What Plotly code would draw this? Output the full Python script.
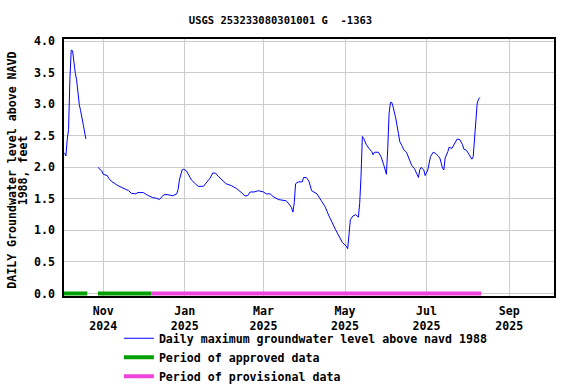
import plotly.graph_objects as go

# Daily maximum groundwater level (feet above NAVD 1988)
seg1_dates = ["2024-10-03", "2024-10-04", "2024-10-05", "2024-10-06", "2024-10-07",
              "2024-10-08", "2024-10-09", "2024-10-10", "2024-10-11", "2024-10-12",
              "2024-10-13", "2024-10-14", "2024-10-15", "2024-10-16", "2024-10-17",
              "2024-10-18", "2024-10-19"]
seg1_vals = [2.23, 2.18, 2.44, 2.60, 3.40, 3.86, 3.85, 3.65, 3.50, 3.39,
             3.15, 3.00, 2.90, 2.81, 2.68, 2.56, 2.45]

seg2_dates = ["2024-10-28", "2024-10-31", "2024-11-01", "2024-11-04", "2024-11-05",
              "2024-11-07", "2024-11-10", "2024-11-12", "2024-11-15", "2024-11-17",
              "2024-11-20", "2024-11-22", "2024-11-25", "2024-11-27", "2024-12-01",
              "2024-12-04", "2024-12-06", "2024-12-08", "2024-12-11", "2024-12-13",
              "2024-12-16", "2024-12-18", "2024-12-21", "2024-12-23", "2024-12-26",
              "2024-12-27", "2024-12-28", "2024-12-30", "2024-12-31", "2025-01-02",
              "2025-01-04", "2025-01-06", "2025-01-09", "2025-01-11", "2025-01-15",
              "2025-01-17", "2025-01-20", "2025-01-22", "2025-01-24", "2025-01-26",
              "2025-01-29", "2025-01-31", "2025-02-01", "2025-02-05", "2025-02-09",
              "2025-02-13", "2025-02-15", "2025-02-17", "2025-02-19", "2025-02-22",
              "2025-02-25", "2025-03-01", "2025-03-03", "2025-03-06", "2025-03-08",
              "2025-03-12", "2025-03-15", "2025-03-18", "2025-03-20", "2025-03-22",
              "2025-03-23", "2025-03-24", "2025-03-25", "2025-03-27", "2025-03-30",
              "2025-03-31", "2025-04-02", "2025-04-04", "2025-04-06", "2025-04-10",
              "2025-04-13", "2025-04-16", "2025-04-19", "2025-04-22", "2025-04-24",
              "2025-04-26", "2025-04-29", "2025-05-02", "2025-05-03", "2025-05-04",
              "2025-05-05", "2025-05-07", "2025-05-09", "2025-05-11", "2025-05-12",
              "2025-05-13", "2025-05-14", "2025-05-15", "2025-05-17", "2025-05-19",
              "2025-05-21", "2025-05-22", "2025-05-23", "2025-05-26", "2025-05-28",
              "2025-05-30", "2025-05-31", "2025-06-01", "2025-06-02", "2025-06-03",
              "2025-06-04", "2025-06-05", "2025-06-06", "2025-06-08", "2025-06-10",
              "2025-06-11", "2025-06-13", "2025-06-14", "2025-06-16", "2025-06-18",
              "2025-06-20", "2025-06-22", "2025-06-24", "2025-06-25", "2025-06-26",
              "2025-06-27", "2025-06-29", "2025-06-30", "2025-07-02", "2025-07-04",
              "2025-07-06", "2025-07-08", "2025-07-11", "2025-07-13", "2025-07-14",
              "2025-07-15", "2025-07-17", "2025-07-18", "2025-07-20", "2025-07-22",
              "2025-07-24", "2025-07-26", "2025-07-28", "2025-07-29", "2025-07-31",
              "2025-08-02", "2025-08-04", "2025-08-05", "2025-08-06", "2025-08-07",
              "2025-08-08", "2025-08-09", "2025-08-10"]
seg2_vals = [2.00, 1.94, 1.89, 1.87, 1.83,
             1.78, 1.74, 1.71, 1.68, 1.66,
             1.63, 1.59, 1.58, 1.60, 1.60,
             1.56, 1.54, 1.52, 1.51, 1.49,
             1.56, 1.57, 1.56, 1.55, 1.58,
             1.65, 1.80, 1.96, 1.97, 1.95,
             1.88, 1.80, 1.74, 1.70, 1.70,
             1.75, 1.83, 1.91, 1.91, 1.86,
             1.80, 1.77, 1.74, 1.71, 1.66,
             1.59, 1.55, 1.55, 1.61, 1.61,
             1.63, 1.61, 1.58, 1.58, 1.54,
             1.49, 1.48, 1.47, 1.42, 1.36,
             1.29, 1.44, 1.74, 1.77, 1.77,
             1.84, 1.84, 1.78, 1.63, 1.58,
             1.48, 1.38, 1.23, 1.08, 1.01,
             0.93, 0.81, 0.75, 0.71, 0.93,
             1.17, 1.23, 1.25, 1.21, 1.43,
             1.86, 2.49, 2.46, 2.36, 2.30,
             2.25, 2.20, 2.24, 2.24, 2.17,
             2.04, 1.97, 1.89, 2.30, 2.85,
             3.03, 3.03, 2.96, 2.78, 2.54,
             2.41, 2.33, 2.28, 2.24, 2.12,
             2.03, 1.98, 1.89, 1.84, 1.96,
             2.00, 1.96, 1.87, 1.96, 2.17,
             2.24, 2.22, 2.15, 1.99, 1.96,
             2.15, 2.25, 2.32, 2.30, 2.38,
             2.45, 2.44, 2.36, 2.29, 2.27,
             2.20, 2.13, 2.17, 2.46, 2.75,
             3.02, 3.08, 3.11]

# Periods of data status
approved_periods = [("2024-10-02", "2024-10-20"), ("2024-10-28", "2024-12-07")]
provisional_periods = [("2024-12-07", "2025-08-11")]

x_ticks = ["2024-11-01", "2025-01-01", "2025-03-01", "2025-05-01", "2025-07-01", "2025-09-01"]
x_tick_labels = ["Nov<br>2024", "Jan<br>2025", "Mar<br>2025", "May<br>2025", "Jul<br>2025", "Sep<br>2025"]
y_ticks = [0.0, 0.5, 1.0, 1.5, 2.0, 2.5, 3.0, 3.5, 4.0]
y_title_lines = ["DAILY Groundwater level above NAVD", "1988, feet"]

FONT = "DejaVu Sans Mono"

line_x = seg1_dates + ["2024-10-24"] + seg2_dates
line_y = seg1_vals + [None] + seg2_vals

fig = go.Figure()
fig.add_trace(go.Scatter(x=line_x, y=line_y, mode="lines",
                         line=dict(color="#0000ff", width=1),
                         connectgaps=False,
                         name="Daily maximum groundwater level above navd 1988"))

ax, ay = [], []
for s, e in approved_periods:
    ax += [s, e, None]
    ay += [0, 0, None]
fig.add_trace(go.Scatter(x=ax, y=ay, mode="lines",
                         line=dict(color="#00a000", width=4),
                         name="Period of approved data"))
px_, py_ = [], []
for s, e in provisional_periods:
    px_ += [s, e, None]
    py_ += [0, 0, None]
fig.add_trace(go.Scatter(x=px_, y=py_, mode="lines",
                         line=dict(color="#ee44dd", width=4),
                         name="Period of provisional data"))

# y-axis title, two lines placed individually (tight line spacing)
for txt, xpos in zip(y_title_lines, [-0.1067, -0.0831]):
    fig.add_annotation(text=txt, xref="paper", yref="paper", x=xpos, y=0.49,
                       xanchor="center", yanchor="middle", textangle=-90,
                       showarrow=False,
                       font=dict(family=FONT, size=11.6, color="black", weight="bold"))

fig.update_layout(
    width=576, height=384,
    margin=dict(l=64, r=22, t=39, b=88, autoexpand=False),
    paper_bgcolor="white", plot_bgcolor="white",
    font=dict(family=FONT, size=11.6, color="black", weight="bold"),
    title=dict(text="USGS 253233080301001 G  -1363", x=280.5 / 576, xanchor="center",
               y=1 - 20 / 384, yanchor="middle", yref="container", xref="container",
               font=dict(family=FONT, size=10.5, color="black", weight="bold")),
    showlegend=True,
    legend=dict(x=0.112, xanchor="left", y=-0.108, yanchor="top",
                bgcolor="rgba(0,0,0,0)", tracegroupgap=0,
                font=dict(family=FONT, size=11.6, color="black", weight="bold")),
    xaxis=dict(range=["2024-10-02 14:00", "2025-10-04 12:00"], type="date",
               tickvals=x_ticks, ticktext=x_tick_labels, tickangle=0,
               showgrid=True, gridcolor="#cccccc", gridwidth=1,
               showline=True, linecolor="black", linewidth=1.5, mirror=True,
               ticks="", zeroline=False, automargin=False, ticklabelstandoff=3),
    yaxis=dict(range=[-0.04, 4.036], tickvals=y_ticks, tickformat=".1f",
               showgrid=True, gridcolor="#cccccc", gridwidth=1,
               showline=True, linecolor="black", linewidth=1.5, mirror=True,
               ticks="", zeroline=False, automargin=False, ticklabelstandoff=5),
)

fig.write_html("out.html", config={"displayModeBar": False},
               post_script="document.body.style.margin='0';document.body.style.overflow='hidden';")
